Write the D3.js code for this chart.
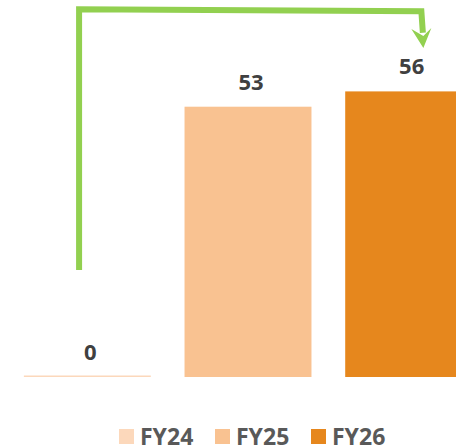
<!DOCTYPE html>
<html>
<head>
<meta charset="utf-8">
<script src="https://cdn.jsdelivr.net/npm/d3@7"></script>
<style>
  body { margin: 0; background: #fff; overflow: hidden; }
  svg { display: block; font-family: "Open Sans", sans-serif; }
</style>
</head>
<body>
<svg id="chart"></svg>
<script>
const categories = ['FY24', 'FY25', 'FY26'];
const values = [0, 53, 56];
const colors = ['#FCD8BB', '#F9C291', '#E6871D'];

const width = 456, height = 447;

const svg = d3.select('#chart')
    .attr('width', width)
    .attr('height', height);

// bands run past the right edge like the original, the last bar is cut off
const xScale = d3.scaleBand()
    .domain(categories)
    .range([7, 489])
    .paddingInner(0.21)
    .paddingOuter(0.105);

const yScale = d3.scaleLinear()
    .domain([0, 60])
    .range([377, 71]);

// bars
svg.selectAll('.bar')
    .data(categories)
    .enter()
    .append('rect')
    .attr('class', 'bar')
    .attr('x', d => xScale(d))
    .attr('width', xScale.bandwidth())
    .attr('y', (d, i) => yScale(values[i]))
    .attr('height', (d, i) => yScale(0) - yScale(values[i]))
    .attr('fill', (d, i) => colors[i]);

// zero value still shows as a thin line
svg.selectAll('.zero')
    .data(categories.filter((d, i) => values[i] === 0))
    .enter()
    .append('rect')
    .attr('class', 'zero')
    .attr('x', d => xScale(d))
    .attr('width', xScale.bandwidth())
    .attr('y', yScale(0) - 1.5)
    .attr('height', 1.5)
    .attr('fill', colors[0]);

// value labels
svg.selectAll('.label')
    .data(categories)
    .enter()
    .append('text')
    .attr('class', 'label')
    .attr('x', d => xScale(d) + xScale.bandwidth() / 2 + 3)
    .attr('y', (d, i) => yScale(values[i]) - 17)
    .attr('text-anchor', 'middle')
    .attr('font-size', 22)
    .attr('font-weight', 700)
    .attr('fill', '#404040')
    .text((d, i) => values[i]);

// green growth arrow from FY24 over to FY26
const arrowStart = 21, arrowTopLeft = 72.1, arrowTopRight = 71.7, arrowEnd = 67.5, arrowTip = 64.5;
const ax0 = xScale('FY24') + xScale.bandwidth() * 0.435;
const ax1 = xScale('FY26') + xScale.bandwidth() * 0.6;
const green = '#92D050';

svg.append('path')
    .attr('d', d3.line()([
        [ax0, yScale(arrowStart)],
        [ax0, yScale(arrowTopLeft)],
        [ax1, yScale(arrowTopRight)],
        [ax1 + 1.5, yScale(arrowEnd)]
    ]))
    .attr('fill', 'none')
    .attr('stroke', green)
    .attr('stroke-width', 6)
    .attr('stroke-linejoin', 'miter');

const tipX = ax1 + 2, tipY = yScale(arrowTip);
svg.append('path')
    .attr('d', `M${tipX - 12},${tipY - 19} L${tipX},${tipY - 12} L${tipX + 8},${tipY - 20} L${tipX},${tipY} Z`)
    .attr('fill', green);

// legend
const legend = svg.selectAll('.legend')
    .data(categories)
    .enter()
    .append('g')
    .attr('class', 'legend')
    .attr('transform', (d, i) => `translate(${119 + i * 96},429)`);

legend.append('rect')
    .attr('width', 15)
    .attr('height', 15)
    .attr('fill', (d, i) => colors[i]);

legend.append('text')
    .attr('x', 21)
    .attr('y', 16)
    .attr('font-size', 23)
    .attr('font-weight', 700)
    .attr('fill', '#595959')
    .text(d => d);
</script>
</body>
</html>
